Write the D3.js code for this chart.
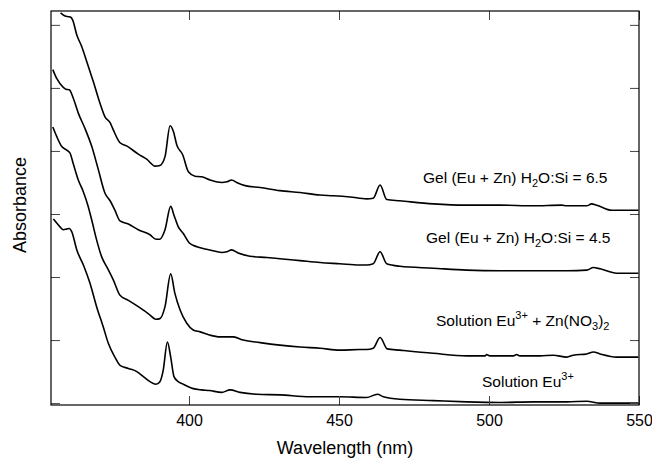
<!DOCTYPE html>
<html>
<head>
<meta charset="utf-8">
<script src="https://d3js.org/d3.v7.min.js"></script>
<style>
  body { margin: 0; background: #fff; }
  text { font-family: Arial, "Liberation Sans", sans-serif; fill: #000; }
</style>
</head>
<body>
<div id="chart"></div>
<script>
// wavelength (nm) and absorbance, one array per spectrum
const gel65 = [
  [357.2, 6.19], [358.7, 6.14], [359.8, 6.13], [360.6, 6.12], [361.2, 6.08], [362.6, 5.84],
  [364.2, 5.66], [365.9, 5.42], [368.1, 5.10], [370.3, 4.76], [372.0, 4.54], [373.7, 4.45],
  [374.8, 4.33], [377.0, 4.13], [379.2, 4.08], [383.1, 3.95], [385.9, 3.87], [388.7, 3.76],
  [390.3, 3.77], [392.0, 3.91], [393.7, 4.40], [394.8, 4.31], [395.9, 4.10], [397.9, 3.94],
  [399.8, 3.67], [402.0, 3.60], [404.2, 3.59], [407.0, 3.54], [410.9, 3.50], [412.6, 3.51],
  [414.2, 3.54], [415.9, 3.50], [418.7, 3.45], [423.7, 3.42], [430.3, 3.37], [437.0, 3.34],
  [443.7, 3.30], [448.1, 3.29], [453.7, 3.27], [459.2, 3.24], [461.4, 3.25], [463.7, 3.46],
  [465.9, 3.23], [470.3, 3.21], [481.4, 3.16], [492.6, 3.14], [503.7, 3.14], [514.7, 3.13],
  [524.2, 3.14], [525.9, 3.13], [532.6, 3.13], [534.2, 3.16], [535.9, 3.14], [540.9, 3.06],
  [549.8, 3.06]
];
const gel45 = [
  [354.6, 5.29], [355.9, 5.15], [358.1, 5.01], [359.0, 4.98], [360.1, 4.97], [361.4, 4.84],
  [363.1, 4.60], [365.3, 4.36], [367.6, 4.07], [369.8, 3.70], [372.0, 3.33], [373.7, 3.21],
  [375.3, 3.06], [377.0, 2.89], [379.8, 2.84], [383.1, 2.75], [387.0, 2.67], [389.0, 2.60],
  [390.3, 2.60], [392.0, 2.75], [393.9, 3.12], [395.0, 2.98], [396.4, 2.80], [398.1, 2.69],
  [400.1, 2.54], [402.6, 2.48], [405.9, 2.44], [407.0, 2.43], [410.9, 2.39], [412.6, 2.40],
  [414.2, 2.43], [416.4, 2.38], [420.3, 2.33], [425.9, 2.31], [430.3, 2.29], [437.0, 2.26],
  [443.7, 2.23], [450.3, 2.21], [456.8, 2.19], [459.2, 2.19], [461.4, 2.21], [463.7, 2.40],
  [465.9, 2.21], [470.3, 2.17], [481.4, 2.14], [492.6, 2.11], [503.7, 2.10], [514.8, 2.10],
  [525.9, 2.10], [532.6, 2.11], [534.8, 2.15], [537.0, 2.13], [542.6, 2.06], [549.8, 2.06]
];
const solEuZn = [
  [354.6, 4.38], [355.9, 4.23], [357.6, 4.07], [359.0, 4.02], [360.3, 3.97], [361.4, 3.80],
  [363.1, 3.54], [364.8, 3.35], [366.4, 3.12], [367.6, 2.90], [369.2, 2.59], [370.9, 2.32],
  [372.6, 2.16], [374.8, 1.95], [377.0, 1.71], [379.8, 1.63], [383.1, 1.53], [386.4, 1.42],
  [389.0, 1.33], [390.3, 1.34], [392.0, 1.53], [393.9, 2.05], [395.3, 1.74], [397.0, 1.48],
  [399.2, 1.27], [401.4, 1.16], [403.7, 1.13], [406.8, 1.08], [410.3, 1.05], [414.8, 1.05],
  [418.1, 1.00], [423.7, 0.96], [430.3, 0.92], [437.0, 0.89], [443.7, 0.87], [450.3, 0.84],
  [456.8, 0.85], [459.2, 0.85], [461.4, 0.87], [463.7, 1.04], [466.1, 0.86], [470.3, 0.84],
  [481.4, 0.79], [492.6, 0.75], [498.7, 0.75], [499.2, 0.77], [500.3, 0.75], [508.1, 0.75],
  [509.2, 0.77], [510.3, 0.75], [517.0, 0.75], [521.4, 0.76], [525.9, 0.73], [528.1, 0.76],
  [532.6, 0.78], [534.8, 0.81], [537.0, 0.78], [542.6, 0.73], [549.8, 0.73]
];
const solEu = [
  [354.8, 2.92], [356.4, 2.83], [358.1, 2.75], [359.2, 2.76], [360.1, 2.77], [360.9, 2.72],
  [362.6, 2.43], [364.8, 2.19], [367.0, 1.90], [369.2, 1.53], [371.4, 1.21], [373.1, 0.95],
  [375.3, 0.73], [377.0, 0.60], [379.8, 0.55], [382.6, 0.50], [384.8, 0.42], [387.0, 0.34],
  [389.0, 0.30], [390.3, 0.34], [391.4, 0.52], [392.8, 0.97], [393.9, 0.73], [395.0, 0.42],
  [396.4, 0.34], [398.1, 0.30], [401.4, 0.23], [404.2, 0.21], [406.8, 0.20], [410.9, 0.17],
  [413.7, 0.21], [417.0, 0.17], [422.6, 0.14], [430.3, 0.13], [440.3, 0.10], [450.3, 0.10],
  [459.2, 0.09], [462.8, 0.14], [464.8, 0.10], [470.3, 0.06], [481.4, 0.04], [492.6, 0.02],
  [503.7, 0.01], [514.8, 0.02], [525.9, 0.02], [532.6, 0.03], [537.0, 0.00], [549.8, 0.00]
];

const xTicks = [400, 450, 500, 550];
const yTicks = [0, 1, 2, 3, 4, 5, 6];

// label text pieces: [text, shift] where shift is "sub", "sup" or ""
const labels = [
  { x: 423, y: 183, parts: [["Gel (Eu + Zn) H", ""], ["2", "sub"], ["O:Si = 6.5", ""]] },
  { x: 426, y: 243, parts: [["Gel (Eu + Zn) H", ""], ["2", "sub"], ["O:Si = 4.5", ""]] },
  { x: 436, y: 326, parts: [["Solution Eu", ""], ["3+", "sup"], [" + Zn(NO", ""], ["3", "sub"], [")", ""], ["2", "sub"]] },
  { x: 482, y: 387, parts: [["Solution Eu", ""], ["3+", "sup"]] }
];

const width = 652, height = 460;
const margin = { top: 11, right: 13, bottom: 55, left: 51 };

const svg = d3.select("#chart").append("svg")
  .attr("width", width)
  .attr("height", height);

const x = d3.scaleLinear().domain([354, 550]).range([margin.left, width - margin.right]);
const y = d3.scaleLinear().domain([-0.03, 6.22]).range([height - margin.bottom, margin.top]);

svg.append("clipPath").attr("id", "plot")
  .append("rect")
  .attr("x", margin.left).attr("y", margin.top)
  .attr("width", width - margin.left - margin.right)
  .attr("height", height - margin.top - margin.bottom);

const line = d3.line().x(d => x(d[0])).y(d => y(d[1])).curve(d3.curveMonotoneX);

svg.append("g").attr("clip-path", "url(#plot)")
  .selectAll("path")
  .data([gel65, gel45, solEuZn, solEu])
  .join("path")
  .attr("d", line)
  .attr("fill", "none")
  .attr("stroke", "#000")
  .attr("stroke-width", 1.6)
  .attr("stroke-linejoin", "round");

// axes, ticks pointing inward on all four sides
const tk = -9;
svg.append("g")
  .attr("transform", `translate(0,${height - margin.bottom})`)
  .call(d3.axisBottom(x).tickValues(xTicks).tickSizeInner(tk).tickSizeOuter(0).tickPadding(10))
  .call(g => g.selectAll("text").attr("font-size", 16).attr("font-family", "Arial, 'Liberation Sans', sans-serif"));
svg.append("g")
  .attr("transform", `translate(0,${margin.top})`)
  .call(d3.axisTop(x).tickValues(xTicks).tickSizeInner(tk).tickSizeOuter(0).tickFormat(""));
svg.append("g")
  .attr("transform", `translate(${margin.left},0)`)
  .call(d3.axisLeft(y).tickValues(yTicks).tickSizeInner(tk).tickSizeOuter(0).tickFormat(""));
svg.append("g")
  .attr("transform", `translate(${width - margin.right},0)`)
  .call(d3.axisRight(y).tickValues(yTicks).tickSizeInner(tk).tickSizeOuter(0).tickFormat(""));

svg.selectAll(".tick line").attr("stroke", "#444");
svg.selectAll(".domain").remove();
// the tick-less axes still leave empty text nodes behind
svg.selectAll(".tick text").filter(function() { return this.textContent === ""; }).remove();

svg.append("rect")
  .attr("x", margin.left).attr("y", margin.top)
  .attr("width", width - margin.left - margin.right)
  .attr("height", height - margin.top - margin.bottom)
  .attr("fill", "none")
  .attr("stroke", "#000")
  .attr("stroke-width", 1.2);

svg.append("text")
  .attr("x", (margin.left + width - margin.right) / 2)
  .attr("y", 454)
  .attr("text-anchor", "middle")
  .attr("font-size", 18)
  .text("Wavelength (nm)");

svg.append("text")
  .attr("transform", `translate(26,205) rotate(-90)`)
  .attr("text-anchor", "middle")
  .attr("font-size", 18)
  .text("Absorbance");

// series labels with sub/superscripts; dy is relative, so undo the previous shift each time
const shift = { sub: 4, sup: -7, "": 0 };
labels.forEach(l => {
  const t = svg.append("text").attr("x", l.x).attr("y", l.y).attr("font-size", 15.5);
  let cur = 0;
  l.parts.forEach(p => {
    const s = t.append("tspan").text(p[0]).attr("dy", shift[p[1]] - cur);
    if (p[1]) s.attr("font-size", 11);
    cur = shift[p[1]];
  });
});
</script>
</body>
</html>
